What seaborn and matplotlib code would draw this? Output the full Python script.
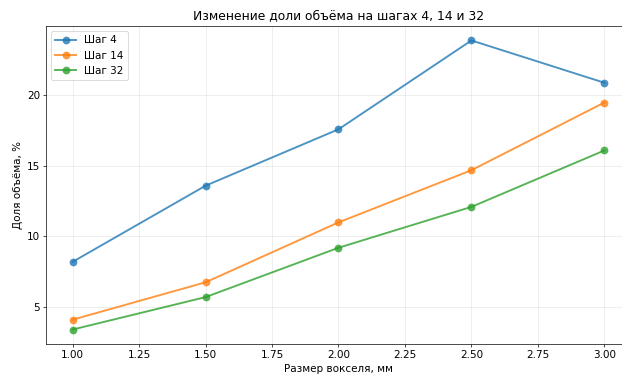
import matplotlib
matplotlib.use("Agg")
import matplotlib.pyplot as plt
import seaborn as sns
import pandas as pd

voxel_sizes = [1.0, 1.5, 2.0, 2.5, 3.0]
step4 = [8.2, 13.6, 17.6, 23.9, 20.9]
step14 = [4.1, 6.75, 11.0, 14.7, 19.5]
step32 = [3.4, 5.7, 9.2, 12.1, 16.1]
series_names = ["Шаг 4", "Шаг 14", "Шаг 32"]

frames = []
for name, vals in zip(series_names, [step4, step14, step32]):
    frames.append(pd.DataFrame({"size": voxel_sizes, "share": vals, "step": name}))
df = pd.concat(frames, ignore_index=True)

W, H = 622, 378
fig = plt.figure(figsize=(W / 62.2, H / 62.2), dpi=62.2)
ax = fig.add_axes([46 / W, 1 - 344 / H, 585 / W, 318 / H])
sns.lineplot(data=df, x="size", y="share", hue="step", marker="o",
             markersize=9, markeredgewidth=0, linewidth=2.2, alpha=0.8,
             palette=["#1f77b4", "#ff7f0e", "#2ca02c"], ax=ax)
ax.set_title("Изменение доли объёма на шагах 4, 14 и 32", fontsize=14.3, pad=8)
ax.set_xlabel("Размер вокселя, мм", fontsize=12)
ax.set_ylabel("Доля объёма, %", fontsize=12)
ax.tick_params(labelsize=12)
ax.grid(True, alpha=0.3)
ax.legend(title=None, loc="upper left", fontsize=12)
fig.savefig("out.png", dpi=62.2)
